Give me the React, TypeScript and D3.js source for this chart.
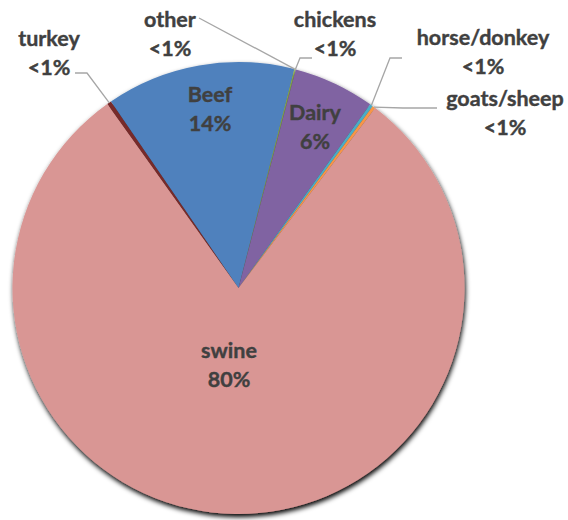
import React from "react";
import * as d3 from "d3";

const categories = ["turkey", "Beef", "other", "chickens", "Dairy", "horse/donkey", "goats/sheep", "swine"];
const values = [0.32, 13.52, 0.05, 0.05, 5.82, 0.22, 0.22, 79.8];
const pctLabels = ["<1%", "14%", "<1%", "<1%", "6%", "<1%", "<1%", "80%"];
const colors = ["#772C2A", "#4F81BD", "#9BBB59", "#7F9F4A", "#8064A2", "#4BACC6", "#F79646", "#D99694"];

// label layout: [centerX, firstBaselineY], and leader polyline start points
const labelPos: [number, number][] = [
  [49, 46], [210, 102], [170, 27], [335, 27], [315, 120], [483, 45], [505, 106], [229, 358],
];
const leaders: ([number, number][] | null)[] = [
  [[75, 73], [87, 73]],
  null,
  [[199, 18]],
  [[312, 58], [300, 58]],
  null,
  [[402, 58], [390, 58]],
  [[437, 108], [403, 108]],
  null,
];

const W = 568, H = 520;
const cx = 238.5, cy = 288, R = 226;
const startDeg = -35.5;

export default function App() {
  const pie = d3.pie<number>().sort(null).value((d) => d)
    .startAngle((startDeg * Math.PI) / 180)
    .endAngle((startDeg * Math.PI) / 180 + 2 * Math.PI);
  const arcs = pie(values);
  const arc = d3.arc<d3.PieArcDatum<number>>().innerRadius(0).outerRadius(R);
  const font = "Lato, 'Open Sans', sans-serif";
  return (
    <svg width={W} height={H} style={{ position: "absolute", left: 0, top: 0 }}>
      <defs>
        <filter id="sh" x="-10%" y="-10%" width="120%" height="125%">
          <feGaussianBlur in="SourceAlpha" stdDeviation="2.5" />
          <feOffset dx="1" dy="3" result="b" />
          <feComponentTransfer><feFuncA type="linear" slope="1" /></feComponentTransfer>
          <feMerge><feMergeNode /><feMergeNode in="SourceGraphic" /></feMerge>
        </filter>
      </defs>
      <rect width={W} height={H} fill="#fff" />
      <g transform={`translate(${cx},${cy})`} filter="url(#sh)">
        {arcs.map((a, i) => (
          <path key={i} d={arc(a) || ""} fill={colors[i]} />
        ))}
      </g>
      {arcs.map((a, i) => {
        const lp = leaders[i];
        if (!lp) return null;
        const m = (a.startAngle + a.endAngle) / 2;
        const ex = cx + Math.sin(m) * R;
        const ey = cy - Math.cos(m) * R;
        const pts = [...lp, [ex, ey]].map((p) => p.join(",")).join(" ");
        return <polyline key={"l" + i} points={pts} fill="none" stroke="#A6A6A6" strokeWidth={1.3} />;
      })}
      {categories.map((c, i) => (
        <text key={"t" + i} x={labelPos[i][0]} y={labelPos[i][1]} textAnchor="middle"
          fontFamily={font} fontWeight="bold" fontSize={21.5} fill="#404040"
          stroke="#404040" strokeWidth={0.4}>
          <tspan x={labelPos[i][0]}>{c}</tspan>
          <tspan x={labelPos[i][0]} dy={29}>{pctLabels[i]}</tspan>
        </text>
      ))}
    </svg>
  );
}
